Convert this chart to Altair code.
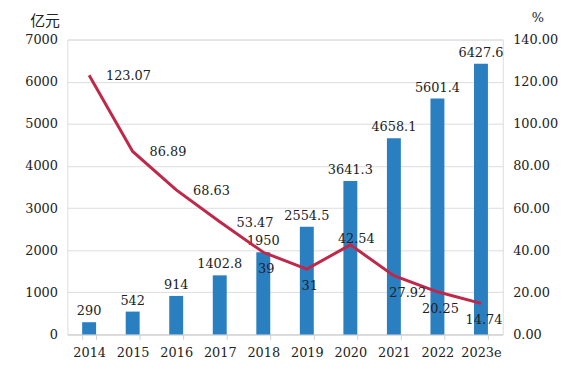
import altair as alt
import pandas as pd

years = ["2014", "2015", "2016", "2017", "2018", "2019", "2020", "2021", "2022", "2023e"]
scale_values = [290, 542, 914, 1402.8, 1950, 2554.5, 3641.3, 4658.1, 5601.4, 6427.6]
growth = [123.07, 86.89, 68.63, 53.47, 39, 31, 42.54, 27.92, 20.25, 14.74]
bar_labels = ["290", "542", "914", "1402.8", "1950", "2554.5", "3641.3", "4658.1", "5601.4", "6427.6"]
growth_labels = ["123.07", "86.89", "68.63", "53.47", "39", "31", "42.54", "27.92", "20.25", "14.74"]

right_group = ["2014", "2015", "2016", "2017"]
below_group = ["2018", "2019", "2022", "2023e"]
below_right_group = ["2021"]
above_group = ["2020"]

df = pd.DataFrame({
    "year": years,
    "value": scale_values,
    "growth": growth,
    "blabel": bar_labels,
    "glabel": growth_labels,
})

FONT = "DejaVu Serif"
FS = 13
TXT = "#222222"
BAR = "#2a7fc0"
LINE = "#c0284a"

x = alt.X("year:N", sort=years,
          scale=alt.Scale(paddingInner=0.68, paddingOuter=0.34),
          axis=alt.Axis(title=None, labelAngle=0, tickBand="extent", ticks=True,
                        tickSize=5, tickColor="#cfcfcf", domainColor="#cfcfcf",
                        labelFont=FONT, labelFontSize=FS, labelColor=TXT,
                        labelPadding=7, grid=False))

yL = alt.Y("value:Q",
           scale=alt.Scale(domain=[0, 7000]),
           axis=alt.Axis(title="亿元", titleAngle=0, titleX=-23, titleY=-19,
                         titleAlign="center", titleBaseline="middle",
                         titleFont="Noto Sans CJK SC", titleFontSize=15,
                         titleFontWeight="normal", titleColor=TXT,
                         values=[0, 1000, 2000, 3000, 4000, 5000, 6000, 7000], format="d",
                         labelFont=FONT, labelFontSize=FS, labelColor=TXT,
                         labelPadding=10, ticks=False, domain=False,
                         grid=True, gridColor="#dddddd"))

yR = alt.Y("growth:Q",
           scale=alt.Scale(domain=[0, 140]),
           axis=alt.Axis(title="%", orient="right", titleAngle=0, titleX=35, titleY=-22,
                         titleAlign="center", titleBaseline="middle",
                         titleFont=FONT, titleFontSize=13,
                         titleFontWeight="normal", titleColor=TXT,
                         values=[0, 20, 40, 60, 80, 100, 120, 140], format=".2f",
                         labelFont=FONT, labelFontSize=FS, labelColor=TXT,
                         labelPadding=10, ticks=False, domain=False, grid=False))

base = alt.Chart(df)

bars = base.mark_bar(color=BAR).encode(x=x, y=yL)
bar_text = base.mark_text(font=FONT, fontSize=FS, color=TXT, baseline="bottom", dy=-4).encode(
    x=alt.X("year:N", sort=years), y=alt.Y("value:Q"), text="blabel:N")
left = alt.layer(bars, bar_text)

line = base.mark_line(color=LINE, strokeWidth=3, interpolate="linear").encode(
    x=alt.X("year:N", sort=years), y=yR)

def glabel(group, **kw):
    return base.transform_filter(
        alt.FieldOneOfPredicate(field="year", oneOf=group)
    ).mark_text(font=FONT, fontSize=FS, color=TXT, **kw).encode(
        x=alt.X("year:N", sort=years), y=alt.Y("growth:Q"), text="glabel:N")

right = alt.layer(
    line,
    glabel(right_group, align="left", baseline="middle", dx=17, dy=1),
    glabel(below_group, align="center", baseline="middle", dx=3, dy=17),
    glabel(below_right_group, align="center", baseline="middle", dx=14, dy=18),
    glabel(above_group, align="center", baseline="middle", dx=6, dy=-6),
)

chart = alt.layer(left, right).resolve_scale(y="independent").properties(
    width=440, height=298,
    autosize=alt.AutoSizeParams(type="none"),
    padding={"left": 60, "top": 30, "right": 70, "bottom": 30},
).configure_view(stroke=None).configure(background="white")

chart.save("out.html", embed_options={"renderer": "svg", "actions": False})
